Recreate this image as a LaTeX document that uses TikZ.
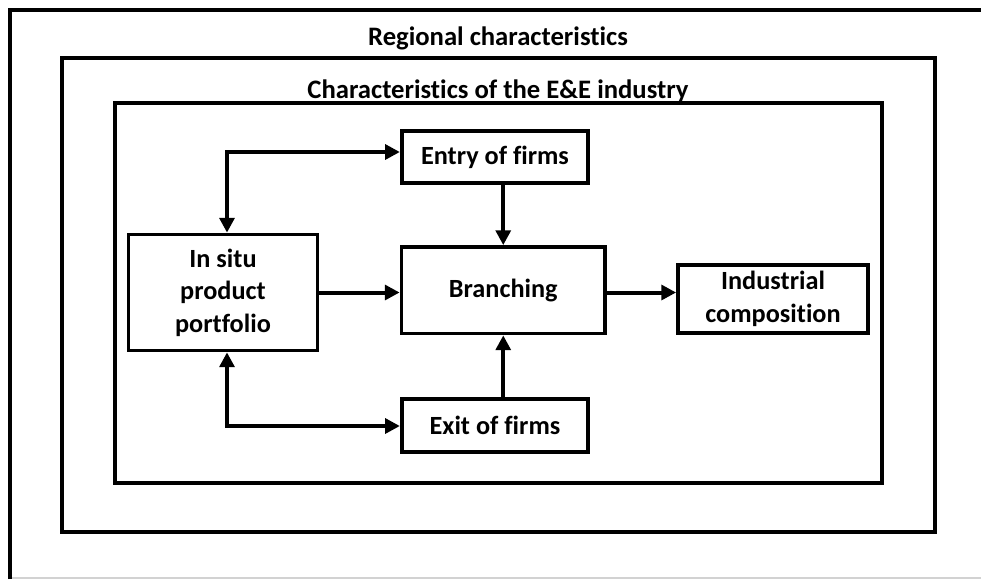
\documentclass[tikz,border=0pt]{standalone}
\usepackage{fontspec}
\setmainfont{Carlito}[Ligatures=NoCommon]
\usetikzlibrary{arrows.meta}
\tikzset{
  frame/.style={line width=3pt},
  box/.style={draw, line width=2.8pt, align=center, inner sep=0pt,
    font=\fontsize{19.7}{24.3}\selectfont\bfseries},
  title/.style={inner sep=0pt, anchor=base,
    font=\fontsize{20}{23}\selectfont\bfseries},
  arr/.style={line width=3pt, -{Triangle[length=11pt,width=11pt]}},
  dbl/.style={line width=3pt, {Triangle[length=11pt,width=11pt]}-{Triangle[length=11pt,width=11pt]}},
}
\begin{document}
\begin{tikzpicture}[x=0.75pt,y=-0.75pt]
\useasboundingbox (0,0) rectangle (981,579);

% outer frame (regional level)
\draw[gray!35, line width=0.8pt] (9.5,578) -- (981,578);
\draw[frame] (9.5,579) -- (9.5,9.5) -- (981,9.5);
\node[title] (regtitle) at (498,45.8) {Regional characteristics};

% industry level frame
\draw[frame] (61.5,57.5) rectangle (935,531.5);
\node[title] (indtitle) at (498,98.5) {Characteristics of the E\&E industry};

% inner frame
\draw[frame] (115,102.5) rectangle (882,483);

% process boxes
\node[box, minimum width=186.5*0.75pt, minimum height=52*0.75pt] (entry) at (495,157) {Entry of firms};
\node[box, minimum width=186.5*0.75pt, minimum height=52.5*0.75pt] (exit) at (495,425.5) {Exit of firms};
\node[box, minimum width=203.5*0.75pt, minimum height=86.5*0.75pt] (branch) at (503.25,290.25) {Branching};
\node[box, minimum width=189*0.75pt, minimum height=116*0.75pt] (insitu) at (223,292.5) {In situ\\product\\portfolio};
\node[box, minimum width=190*0.75pt, minimum height=68*0.75pt] (indcomp) at (773,299) {Industrial\\composition};

% connectors
\coordinate (ctop) at (227,152);
\coordinate (cbot) at (227,426);
\draw[dbl] (ctop |- insitu.north) -- (ctop) -- (ctop -| entry.west);
\draw[dbl] (cbot |- insitu.south) -- (cbot) -- (cbot -| exit.west);
\draw[arr] (insitu.east) -- (insitu.east -| branch.west);
\draw[arr] (branch.east |- insitu.east) -- (insitu.east -| indcomp.west);
\draw[arr] (entry.south -| branch.north) -- (branch.north);
\draw[arr] (exit.north -| branch.south) -- (branch.south);
\end{tikzpicture}
\end{document}
